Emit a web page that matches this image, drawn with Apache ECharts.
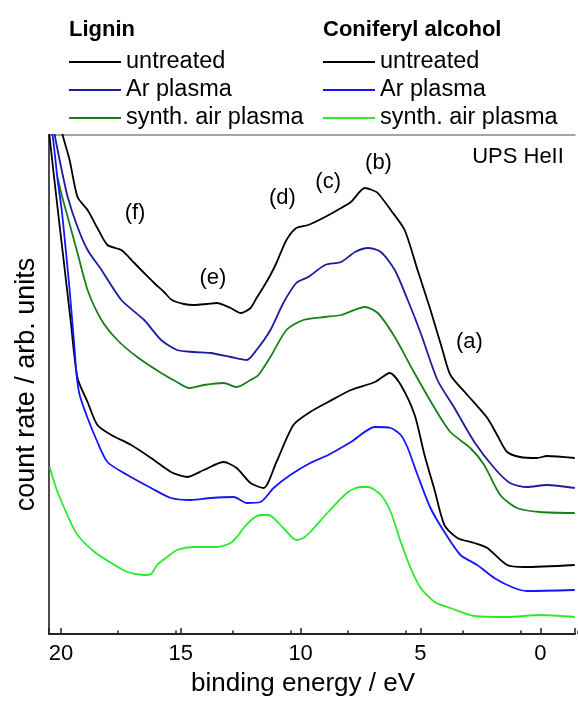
<!DOCTYPE html>
<html>
<head>
<meta charset="utf-8">
<script src="https://cdn.jsdelivr.net/npm/echarts@6/dist/echarts.min.js"></script>
</head>
<body style="margin:0">
<div id="container" style="width:578px;height:701px"></div>
<script>
// binding energy (eV) and count rate (arb. units)
var energyLigUnt = [20.14,19.93,19.64,19.31,18.89,18.48,18.06,17.48,16.94,16.53,16.11,15.70,15.37,14.87,14.45,13.91,13.50,12.92,12.50,12.09,11.84,11.55,11.26,11.01,10.59,10.18,9.68,8.98,8.31,7.90,7.32,7.02,6.78,6.24,5.66,5.12,4.58,4.08,3.75,3.04,2.21,1.80,1.38,0.84,0.14,-0.28,-1.44];
var countLigUnt  = [524,499,474,437,424,406,389,384,371,361,351,342,334,330,329,330,331,326,321,326,336,347,359,371,394,406,409,417,426,432,446,444,441,424,404,364,324,284,259,239,216,199,182,177,176,178,176];

var energyLigAr = [20.34,20.26,19.97,19.72,19.31,18.89,18.31,17.48,16.53,15.82,15.16,14.45,13.75,12.92,12.25,11.84,11.26,10.72,10.18,9.68,8.98,8.31,7.73,7.19,6.65,6.07,5.53,4.99,4.29,3.58,2.75,1.92,1.26,0.55,-0.28,-1.44];
var countLigAr  = [514,499,464,437,407,384,364,334,314,294,284,282,281,277,274,284,304,331,351,357,369,372,382,386,382,364,334,301,254,226,192,166,151,147,149,146];

var energyLigAir = [20.14,19.97,19.72,19.31,18.89,18.31,17.65,16.82,15.82,15.16,14.66,14.04,13.21,12.67,12.09,11.76,11.26,10.59,9.89,8.98,8.31,7.32,6.78,6.07,5.32,4.41,3.75,2.92,2.34,1.67,0.97,0.01,-1.44];
var countLigAir  = [456,439,417,381,344,314,294,277,261,252,246,249,251,247,254,259,277,304,314,317,319,327,321,297,264,226,202,186,169,139,126,122,121];

var energyConUnt = [20.50,20.47,20.18,19.89,19.60,19.31,18.89,18.48,17.90,17.07,16.24,15.41,14.74,14.04,13.21,12.67,12.09,11.55,11.01,10.30,9.60,8.85,7.90,6.90,6.28,5.82,5.24,4.83,4.41,4.00,3.46,2.75,2.21,1.38,0.68,-1.44];
var countConUnt  = [506,496,434,374,314,256,232,209,199,189,176,162,157,164,172,166,151,146,172,209,222,232,244,252,261,249,219,179,144,109,96,91,86,69,67,69];

var energyConAr = [20.43,20.34,20.14,19.97,19.80,19.64,19.43,19.35,19.22,18.89,18.48,18.06,17.23,16.24,15.41,14.58,13.75,12.79,12.25,11.67,11.13,10.43,9.60,8.85,7.90,6.90,6.24,5.82,5.53,5.12,4.58,4.00,3.33,2.63,1.92,1.09,0.55,-1.44];
var countConAr  = [506,497,454,424,384,344,284,259,239,216,192,172,159,146,136,134,136,137,131,132,146,159,171,179,192,207,206,199,186,159,126,102,79,69,56,46,43,44];

var energyConAir = [20.47,20.22,19.97,19.64,19.31,18.60,17.90,17.23,16.53,16.24,15.99,15.57,15.16,14.45,13.50,12.92,12.59,12.38,11.96,11.67,11.34,11.13,10.72,10.18,9.89,9.60,8.85,8.02,7.52,7.19,6.65,6.24,5.82,5.41,4.99,4.41,3.75,2.75,1.38,0.01,-1.44];
var countConAir  = [167,147,132,114,99,82,71,62,59,60,69,77,84,87,87,91,99,106,116,119,119,116,106,94,96,102,122,142,147,147,139,122,92,66,46,32,26,18,17,19,17];

// peak labels
var peakText   = ['(a)', '(b)', '(c)', '(d)', '(e)', '(f)'];
var peakEnergy = [2.96, 6.75, 8.85, 10.76, 13.66, 16.91];
var peakCount  = [292, 471, 452, 436, 356, 421];

var FONT = 'Liberation Sans, Arial, sans-serif';

function zip(xs, ys) {
    return xs.map(function (x, i) { return [x, ys[i]]; });
}

function mkSeries(name, color, xs, ys) {
    return {
        name: name,
        type: 'line',
        xAxisIndex: 0,
        yAxisIndex: 0,
        showSymbol: false,
        smooth: 0.25,
        lineStyle: { color: color, width: 1.8 },
        itemStyle: { color: color },
        data: zip(xs, ys)
    };
}

var series = [
    mkSeries('Lignin|untreated', '#000000', energyLigUnt, countLigUnt),
    mkSeries('Lignin|Ar plasma', '#1c1c9e', energyLigAr, countLigAr),
    mkSeries('Lignin|synth. air plasma', '#1a7f1a', energyLigAir, countLigAir),
    mkSeries('CA|untreated', '#000000', energyConUnt, countConUnt),
    mkSeries('CA|Ar plasma', '#1414ff', energyConAr, countConAr),
    mkSeries('CA|synth. air plasma', '#2ee82e', energyConAir, countConAir)
];

series[0].markPoint = {
    symbol: 'circle',
    symbolSize: 0,
    silent: true,
    label: { show: true, position: 'inside', color: '#000', fontSize: 22, fontFamily: FONT },
    data: peakText.map(function (t, i) {
        return { coord: [peakEnergy[i], peakCount[i]], label: { formatter: t } };
    })
};

var legendCommon = {
    orient: 'vertical',
    top: 48,
    padding: 0,
    itemGap: 0,
    itemWidth: 52,
    itemHeight: 2,
    icon: 'rect',
    selectedMode: false,
    formatter: function (name) { return name.split('|')[1]; },
    textStyle: { fontSize: 23.5, fontFamily: FONT, color: '#000', lineHeight: 28 }
};

var myChart = echarts.init(document.getElementById('container'));
var option = {
    animation: false,
    backgroundColor: '#fff',
    legend: [
        Object.assign({}, legendCommon, { left: 69, data: ['Lignin|untreated', 'Lignin|Ar plasma', 'Lignin|synth. air plasma'] }),
        Object.assign({}, legendCommon, { left: 323, data: ['CA|untreated', 'CA|Ar plasma', 'CA|synth. air plasma'] })
    ],
    grid: [
        { left: 49, right: 0, top: 135, bottom: 67 },
        { left: 49, right: -25.3, top: 135, bottom: 67 }
    ],
    xAxis: [
        {
            type: 'value', gridIndex: 0, inverse: true, min: -1.45, max: 20.5, splitNumber: 5,
            axisLine: { onZero: false, lineStyle: { color: '#222', width: 2 } },
            axisTick: { inside: true, length: 6, lineStyle: { color: '#222', width: 1.5 } },
            axisLabel: {
                fontSize: 22, fontFamily: FONT, color: '#000', margin: 9,
                formatter: function (v) { return Math.abs(v % 5) < 1e-6 ? String(v) : ''; }
            },
            splitLine: { show: false }
        },
        {
            type: 'value', gridIndex: 0, inverse: true, min: -1.45, max: 20.5, position: 'top',
            axisLine: { onZero: false, lineStyle: { color: '#888', width: 1.5 } },
            axisTick: { show: false }, axisLabel: { show: false }, splitLine: { show: false }
        },
        {
            // minor ticks every 2.5 eV
            type: 'value', gridIndex: 1, inverse: true, min: -2.5, max: 20.5, interval: 2.5,
            axisLine: { show: false, onZero: false },
            axisTick: { inside: true, length: 3.5, lineStyle: { color: '#222', width: 1.5 } },
            axisLabel: { show: false }, splitLine: { show: false }
        }
    ],
    yAxis: [
        {
            type: 'value', gridIndex: 0, min: 0, max: 499,
            name: 'count rate / arb. units', nameLocation: 'middle', nameGap: 9,
            nameTextStyle: { fontSize: 27, fontFamily: FONT, color: '#000' },
            axisLine: { show: true, onZero: false, lineStyle: { color: '#111', width: 1.5 } },
            axisTick: { show: false }, axisLabel: { show: false }, splitLine: { show: false }
        },
        { type: 'value', gridIndex: 1, min: 0, max: 499, show: false }
    ],
    graphic: [
        { type: 'text', x: 69, y: 30, style: { text: 'Lignin', font: 'bold 22px ' + FONT, fill: '#000', verticalAlign: 'middle' } },
        { type: 'text', x: 323, y: 30, style: { text: 'Coniferyl alcohol', font: 'bold 22px ' + FONT, fill: '#000', verticalAlign: 'middle' } },
        { type: 'text', x: 518, y: 157, style: { text: 'UPS HeII', font: '22px ' + FONT, fill: '#000', align: 'center', verticalAlign: 'middle' } },
        { type: 'text', x: 303, y: 684, style: { text: 'binding energy / eV', font: '26px ' + FONT, fill: '#000', align: 'center', verticalAlign: 'middle' } }
    ],
    series: series
};
myChart.setOption(option);
</script>
</body>
</html>
